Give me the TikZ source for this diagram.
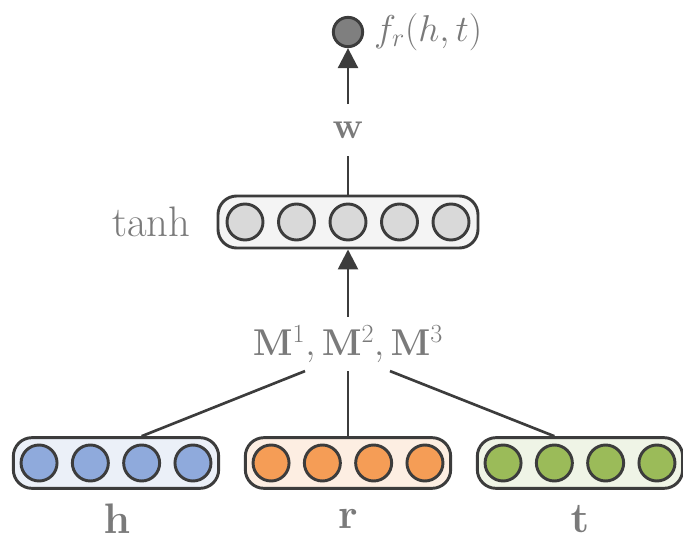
\RequirePackage{fix-cm}
\documentclass[tikz,border=0pt]{standalone}
\usepackage{amsmath}
\usepackage{amssymb}
\usepackage{xcolor}
\usetikzlibrary{arrows.meta,positioning}

\definecolor{linegray}{HTML}{3C3C3C}
\definecolor{textgray}{HTML}{7A7A7A}
\definecolor{hfill}{HTML}{8FAADC}
\definecolor{hback}{HTML}{EBF0F8}
\definecolor{rfill}{HTML}{F59D56}
\definecolor{rback}{HTML}{FDEEE2}
\definecolor{tfill}{HTML}{9BBB59}
\definecolor{tback}{HTML}{EFF4E6}
\definecolor{nfill}{HTML}{D9D9D9}
\definecolor{nback}{HTML}{F4F4F4}
\definecolor{ofill}{HTML}{7F7F7F}

\begin{document}
\begin{tikzpicture}[
  x=0.75pt, y=-0.75pt,
  font=\fontsize{32}{38}\selectfont,
  unit/.style={circle, draw=linegray, line width=2.2pt, minimum size=27pt, inner sep=0pt},
  layer/.style={draw=linegray, line width=2.2pt, rounded corners=14pt, minimum height=38pt},
  lbl/.style={text=textgray},
  mlbl/.style={text=textgray, font=\fontsize{28}{34}\selectfont},
  arrow/.style={draw=linegray, line width=2pt, -{Triangle[length=15pt, width=15pt]}},
  link/.style={draw=linegray, line width=2pt},
]
\useasboundingbox (0,0) rectangle (683,542);

% input embeddings
\node[layer, fill=hback, minimum width=154pt] (hbox) at (116,463) {};
\node[layer, fill=rback, minimum width=154pt] (rbox) at (348,463) {};
\node[layer, fill=tback, minimum width=154pt] (tbox) at (580,463) {};
\foreach \i in {1,...,4} {
  \node[unit, fill=hfill] (h\i) at ({116+(\i-2.5)*51.3},463) {};
  \node[unit, fill=rfill] (r\i) at ({348+(\i-2.5)*51.3},463) {};
  \node[unit, fill=tfill] (t\i) at ({580+(\i-2.5)*51.3},463) {};
}
\node[lbl, inner sep=1pt] (hlab) at (117,519) {$\mathbf{h}$};
\node[lbl, inner sep=1pt] (rlab) at (348,519) {$\mathbf{r}$};
\node[lbl, inner sep=1pt] (tlab) at (580,519) {$\mathbf{t}$};

% projection
\node[mlbl, inner ysep=6pt] (proj) at (348,344) {$\mathbf{M}^1,\mathbf{M}^2,\mathbf{M}^3$};
\path (proj.south) ++(-43,0) coordinate (projl);
\path (proj.south) ++(42,0) coordinate (projr);
\draw[link] (projl) -- (hbox.north -| h3);
\draw[link] (proj.south) -- (rbox.north);
\draw[link] (projr) -- (tbox.north -| t2);

% hidden layer
\node[layer, fill=nback, minimum width=195pt, minimum height=39pt] (hidden) at (348,222) {};
\foreach \i in {1,...,5} {
  \node[unit, fill=nfill] (n\i) at ({348+(\i-3)*51.5},222) {};
}
\node[lbl, left=16pt of hidden] (act) {tanh};
\draw[arrow] (proj.north) -- (hidden.south);

% output
\node[mlbl, inner ysep=13pt] (wlab) at (348,130) {$\mathbf{w}$};
\node[circle, draw=linegray, line width=2.2pt, fill=ofill, minimum size=22pt, inner sep=0pt] (out) at (348,32) {};
\node[mlbl, right=4pt of out] (score) {$f_r(h,t)$};
\draw[link] (hidden.north) -- (wlab.south);
\draw[arrow] (wlab.north) -- (out.south);
\end{tikzpicture}
\end{document}
